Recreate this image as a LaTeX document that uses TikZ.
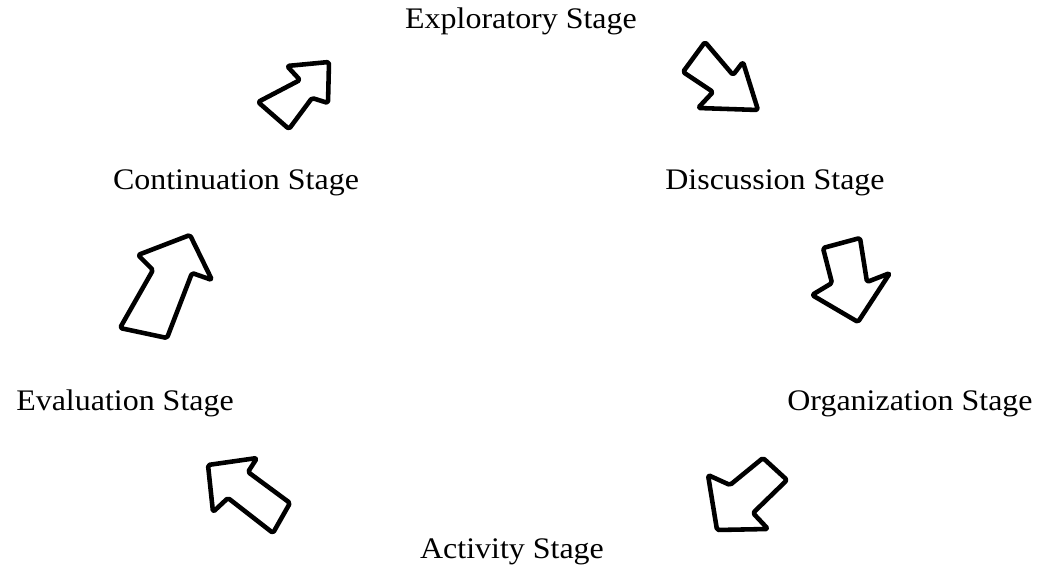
\documentclass[tikz,border=0pt]{standalone}
\usepackage{fontspec}
\setmainfont{Liberation Serif}
\usepackage{tikz}

\begin{document}
\begin{tikzpicture}[
        x=0.02cm, y=-0.02cm,
        stage/.style={anchor=base, inner sep=0pt, font=\fontsize{17}{19}\selectfont,
                      xscale=1.07, transform shape},
        blockarrow/.style={draw, line width=2.6pt, line join=round, rounded corners=1pt}
    ]
        \useasboundingbox (0,0) rectangle (1044,567);
        % stage labels
        \node[stage] (expl) at (521, 29)  {Exploratory Stage};
        \node[stage] (disc) at (775, 190) {Discussion Stage};
        \node[stage] (org)  at (910, 410) {Organization Stage};
        \node[stage] (act)  at (512, 558) {Activity Stage};
        \node[stage] (eval) at (125, 410) {Evaluation Stage};
        \node[stage] (cont) at (236, 190) {Continuation Stage};
        % hand drawn arrows
        \draw[blockarrow] (329,62) -- (287,66) -- (300,80) -- (258,102) -- (289,129)
            -- (312,98) -- (328,103) -- cycle;
        \draw[blockarrow] (705,42) -- (683,72) -- (713,92) -- (698,108) -- (758,110)
            -- (743,62) -- (733,75) -- cycle;
        \draw[blockarrow] (823,248) -- (860,238) -- (867,282) -- (890,273) -- (858,322)
            -- (812,295) -- (832,283) -- cycle;
        \draw[blockarrow] (763,458) -- (787,480) -- (753,513) -- (768,529) -- (717,530)
            -- (708,475) -- (730,485) -- cycle;
        \draw[blockarrow] (208,465) -- (257,458) -- (248,472) -- (290,503) -- (273,533)
            -- (228,498) -- (213,512) -- cycle;
        \draw[blockarrow] (190,235) -- (212,280) -- (192,273) -- (167,338) -- (120,328)
            -- (153,270) -- (138,255) -- cycle;
    \end{tikzpicture}
\end{document}
